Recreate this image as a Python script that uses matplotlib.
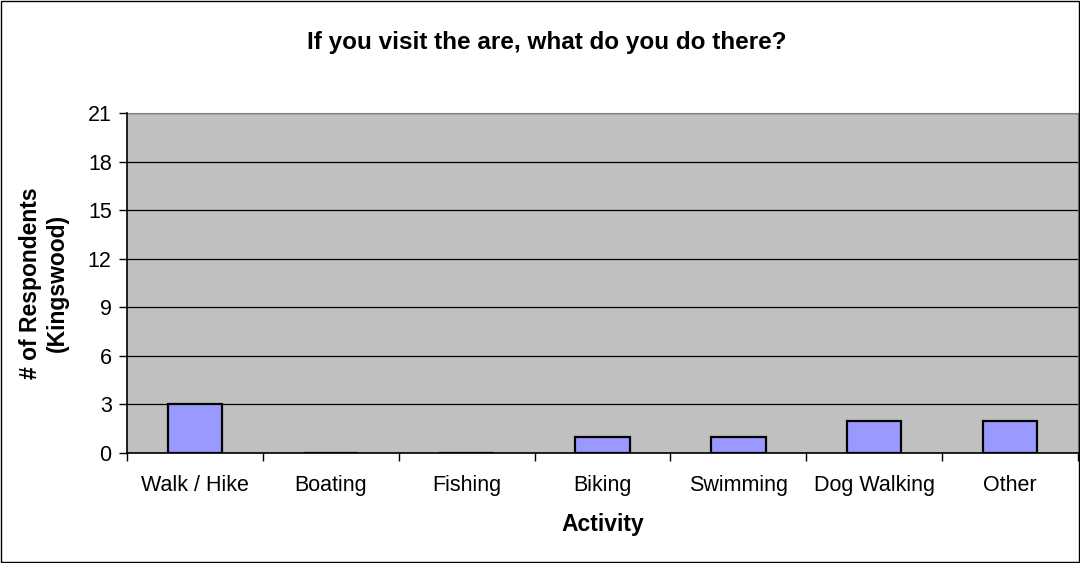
import matplotlib.pyplot as plt
import numpy as np
from matplotlib.patches import Rectangle

plt.rcParams['font.family'] = ['Liberation Sans', 'DejaVu Sans']

# data
activities = ['Walk / Hike', 'Boating', 'Fishing', 'Biking', 'Swimming', 'Dog Walking', 'Other']
respondents = [3, 0, 0, 1, 1, 2, 2]
y_ticks = [0, 3, 6, 9, 12, 15, 18, 21]

fig = plt.figure(figsize=(10.8, 5.63), dpi=100)
ax = fig.add_axes([127 / 1080, 1 - 453 / 563, (1078 - 127) / 1080, (453 - 113) / 563])
ax.set_facecolor('#C0C0C0')

x = np.arange(len(activities))
ax.bar(x, respondents, width=0.4, color='#9999FF', edgecolor='black', linewidth=1.6, zorder=3)

ax.set_xlim(-0.5, len(activities) - 0.5)
ax.set_ylim(0, 21)
ax.set_yticks(y_ticks)
ax.set_yticklabels([str(v) for v in y_ticks], fontsize=15.5)
ax.yaxis.grid(True, color='black', linewidth=0.9, zorder=1)
ax.set_axisbelow(True)

# category labels centred, tick marks on the boundaries
ax.set_xticks(x)
ax.set_xticklabels(activities, fontsize=15.5)
ax.tick_params(axis='x', length=0, pad=16)
ax.set_xticks(np.arange(len(activities) + 1) - 0.5, minor=True)
ax.tick_params(axis='x', which='minor', length=6, width=1, color='black')
ax.tick_params(axis='y', length=6, width=1, pad=5)

for side in ['top', 'right']:
    ax.spines[side].set_color('#808080')
for side in ['left', 'bottom']:
    ax.spines[side].set_color('black')
    ax.spines[side].set_linewidth(1.2)
    ax.spines[side].set_zorder(4)

ax.set_xlabel('Activity', fontsize=16.5, fontweight='bold', labelpad=12)
ax.set_ylabel('# of Respondents\n(Kingswood)', fontsize=16.5, fontweight='bold', labelpad=14)
fig.text(547 / 1080, 1 - 42 / 563, 'If you visit the are, what do you do there?',
         ha='center', va='center', fontsize=17.5, fontweight='bold')

# outer chart border
fig.patches.append(Rectangle((0.0005, 0.001), 0.999, 0.998, transform=fig.transFigure,
                             fill=False, edgecolor='black', linewidth=1))

fig.savefig('out.png', dpi=100, facecolor='white')
